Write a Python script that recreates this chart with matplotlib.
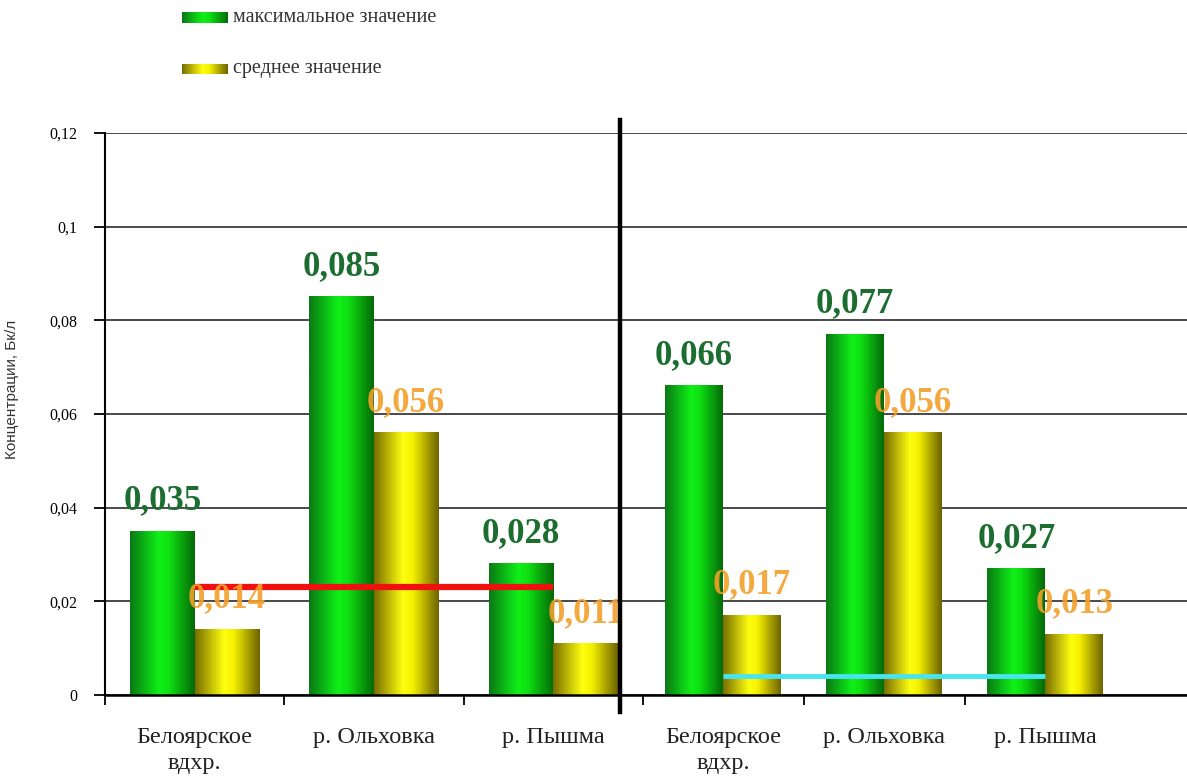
import numpy as np
import matplotlib.pyplot as plt
from matplotlib.colors import LinearSegmentedColormap

# concentrations, Bq/l
sites = ['Белоярское\nвдхр.', 'р. Ольховка', 'р. Пышма']
max_left = [0.035, 0.085, 0.028]
mean_left = [0.014, 0.056, 0.011]
max_right = [0.066, 0.077, 0.027]
mean_right = [0.017, 0.056, 0.013]
level_left = 0.023
level_right = 0.004
yticks = [0, 0.02, 0.04, 0.06, 0.08, 0.1, 0.12]
ytick_labels = ['0', '0,02', '0,04', '0,06', '0,08', '0,1', '0,12']

serif = ['Liberation Serif', 'DejaVu Serif']
narrow = ['Liberation Sans Narrow', 'Liberation Sans', 'DejaVu Sans']

green_cm = LinearSegmentedColormap.from_list(
    'g', [(0, '#0a7a14'), (0.45, '#10f018'), (0.6, '#0ee012'), (1, '#056a08')])
yellow_cm = LinearSegmentedColormap.from_list(
    'y', [(0, '#7a7000'), (0.45, '#ffff10'), (0.6, '#f4f000'), (1, '#6e6400')])
grad = np.linspace(0, 1, 64).reshape(1, -1)

fig = plt.figure(figsize=(11.87, 7.80), dpi=100)
W, H = 1187, 780
y0, y1 = 695, 133
axL = fig.add_axes([105 / W, (H - y0) / H, (620 - 105) / W, (y0 - y1) / H])
axR = fig.add_axes([620 / W, (H - y0) / H, (1187 - 620) / W, (y0 - y1) / H])


def shade(ax, bars, cmap):
    for b in bars:
        x, y = b.get_x(), b.get_y()
        ax.imshow(grad, cmap=cmap, aspect='auto', zorder=2,
                  extent=(x, x + b.get_width(), y, y + b.get_height()))


def draw(ax, vmax, vmean, level, lcolor, lw, xlim, yaxis):
    x = np.arange(len(sites))
    w = 0.36
    bg = ax.bar(x - w / 2, vmax, w, color='none', zorder=2)
    by = ax.bar(x + w / 2, vmean, w, color='none', zorder=2)
    shade(ax, bg, green_cm)
    shade(ax, by, yellow_cm)
    for xi, v in zip(x - w / 2, vmax):
        ax.annotate(f'{v:.3f}'.replace('.', ','), (xi, v), xytext=(0, 10),
                    textcoords='offset points', ha='center', va='bottom',
                    fontsize=25, fontweight='bold', color='#1c6e30',
                    family=serif, clip_on=True, zorder=4)
    for xi, v in zip(x + w / 2, vmean):
        ax.annotate(f'{v:.3f}'.replace('.', ','), (xi, v), xytext=(0, 10),
                    textcoords='offset points', ha='center', va='bottom',
                    fontsize=25, fontweight='bold', color='#f2a02a', alpha=0.9,
                    family=serif, clip_on=True, zorder=4)
    ax.plot([x[0], x[-1]], [level, level], color=lcolor, lw=lw, zorder=3,
            solid_capstyle='butt')

    ax.set_xlim(*xlim)
    ax.set_ylim(0, 0.12)
    ax.set_yticks(yticks)
    ax.yaxis.grid(True, color='#3a3a3a', lw=1.3)
    ax.set_axisbelow(True)
    for s in ['top', 'right']:
        ax.spines[s].set_visible(False)
    ax.spines['bottom'].set_linewidth(1.8)
    ax.set_xticks(x)
    ax.set_xticklabels(sites, family=serif, fontsize=17.5, color='#222222',
                       linespacing=1.3)
    ax.tick_params(axis='x', which='major', length=0, pad=23)
    ax.set_xticks(np.arange(-0.5, len(sites) - 0.5, 1), minor=True)
    ax.tick_params(axis='x', which='minor', length=7, width=1.3, direction='out')
    if yaxis:
        ax.set_yticklabels(ytick_labels, family=serif, fontsize=11.5)
        ax.tick_params(axis='y', length=8, width=1.3, pad=12, direction='out')
        ax.spines['left'].set_linewidth(1.5)
    else:
        ax.spines['left'].set_visible(False)
        ax.tick_params(axis='y', length=0, labelleft=False)


draw(axL, max_left, mean_left, level_left, '#f01010', 4.5, (-0.5, 2.373), True)
draw(axR, max_right, mean_right, level_right, '#48e4f0', 3.5, (-0.64, 2.88), False)

axL.set_ylabel('Концентрации, Бк/л', family=narrow, fontsize=11, color='#333333')
axL.yaxis.set_label_coords(-86 / 515, 0.543)

# separator between the two panels
fig.add_artist(plt.Line2D([620 / W, 620 / W], [(H - 712) / H, (H - 120) / H],
                          color='black', lw=3.2, transform=fig.transFigure))

# legend
for (top, bot), cm, txt in [((12, 23), green_cm, 'максимальное значение'),
                            ((64, 74), yellow_cm, 'среднее значение')]:
    sw = fig.add_axes([182 / W, (H - bot) / H, 46 / W, (bot - top) / H])
    sw.imshow(grad, cmap=cm, aspect='auto')
    sw.axis('off')
    fig.text(233 / W, (H - (top + bot) / 2) / H, txt, family=serif, fontsize=14.5,
             color='#333333', va='center', ha='left')

fig.savefig('out.png', dpi=100)
